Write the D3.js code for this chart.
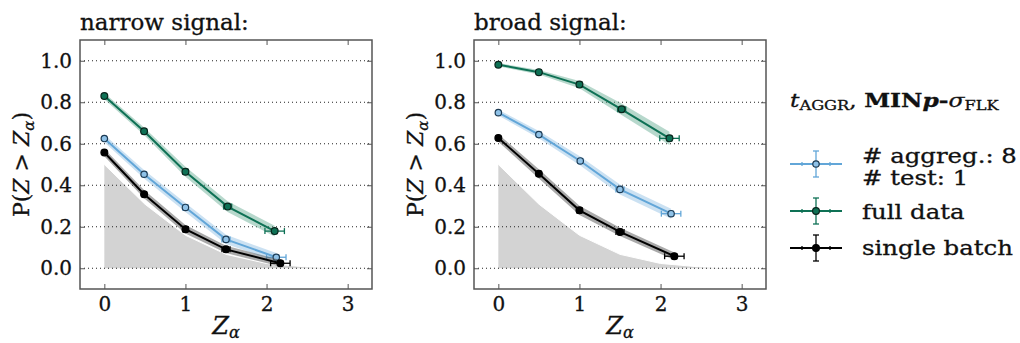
<!DOCTYPE html>
<html>
<head>
<meta charset="utf-8">
<script src="https://cdn.jsdelivr.net/npm/d3@7"></script>
<style>
  body { margin: 0; background: #fff; }
  svg text { font-family: "DejaVu Serif", serif; fill: #111; stroke: #111; stroke-width: 0.3px; }
</style>
</head>
<body>
<svg id="chart" width="1020" height="343"></svg>
<script>
// values
const xTicks = [0, 1, 2, 3];
const yTicks = [0, 0.2, 0.4, 0.6, 0.8, 1.0];

// reference curve (grey area): tail probability at Z_alpha
const refX = [0, 0.5, 1.0, 1.5, 2.0, 2.5, 3.0, 3.5];
const refY = [0.5, 0.309, 0.159, 0.067, 0.023, 0.006, 0.001, 0.0002];

const xErr = [0.02, 0.03, 0.03, 0.05, 0.12];
const yErr = [0.008, 0.01, 0.012, 0.012, 0.012];

const narrowAggX = [0, 0.49, 1.0, 1.5, 2.12];
const narrowAggY = [0.625, 0.453, 0.293, 0.139, 0.053];
const narrowAggBand = [0.018, 0.02, 0.022, 0.022, 0.02];
const narrowFullX = [0, 0.49, 1.0, 1.52, 2.1];
const narrowFullY = [0.83, 0.66, 0.465, 0.297, 0.179];
const narrowFullBand = [0.015, 0.018, 0.024, 0.026, 0.026];
const narrowSingleX = [0, 0.49, 1.0, 1.5, 2.17];
const narrowSingleY = [0.558, 0.357, 0.188, 0.091, 0.024];
const narrowSingleBand = [0.018, 0.02, 0.02, 0.018, 0.016];

const broadAggX = [0, 0.5, 1.01, 1.5, 2.13];
const broadAggY = [0.75, 0.644, 0.517, 0.38, 0.263];
const broadAggBand = [0.014, 0.018, 0.022, 0.024, 0.024];
const broadFullX = [0, 0.5, 1.0, 1.52, 2.11];
const broadFullY = [0.981, 0.945, 0.885, 0.766, 0.626];
const broadFullBand = [0.008, 0.011, 0.017, 0.028, 0.032];
const broadSingleX = [0, 0.5, 1.0, 1.5, 2.17];
const broadSingleY = [0.628, 0.455, 0.279, 0.175, 0.058];
const broadSingleBand = [0.018, 0.022, 0.022, 0.02, 0.018];

const styles = {
  agg:    { line: "#62a6d8", band: "#a8cdea", bandOp: 0.6, fill: "#8fc2e8", edge: "#1d3a52", r: 3.2 },
  full:   { line: "#0e7155", band: "#5fa88f", bandOp: 0.45, fill: "#0e7155", edge: "#0a241c", r: 3.4 },
  single: { line: "#000000", band: "#555555", bandOp: 0.5, fill: "#000000", edge: "#000000", r: 3.4 }
};

const panels = [
  { title: "narrow signal:", left: 80, series: [
      { key: "agg", xs: narrowAggX, ys: narrowAggY, band: narrowAggBand },
      { key: "full", xs: narrowFullX, ys: narrowFullY, band: narrowFullBand },
      { key: "single", xs: narrowSingleX, ys: narrowSingleY, band: narrowSingleBand }] },
  { title: "broad signal:", left: 474, series: [
      { key: "agg", xs: broadAggX, ys: broadAggY, band: broadAggBand },
      { key: "full", xs: broadFullX, ys: broadFullY, band: broadFullBand },
      { key: "single", xs: broadSingleX, ys: broadSingleY, band: broadSingleBand }] }
];

const W = 292, plotTop = 40, plotBottom = 289;
const svg = d3.select("#chart");

panels.forEach((p, pi) => {
  const x = d3.scaleLinear().domain([-0.3, 3.3]).range([p.left, p.left + W]);
  const y = d3.scaleLinear().domain([-0.1, 1.1]).range([plotBottom, plotTop]);
  const g = svg.append("g");

  const clipId = "clip" + pi;
  g.append("clipPath").attr("id", clipId)
    .append("rect").attr("x", p.left).attr("y", plotTop).attr("width", W).attr("height", plotBottom - plotTop);

  const plot = g.append("g").attr("clip-path", `url(#${clipId})`);

  // grey reference area
  const ref = refX.map((v, i) => [v, refY[i]]);
  plot.append("path").datum(ref)
    .attr("fill", "#d3d3d3")
    .attr("d", d3.area().x(d => x(d[0])).y0(y(0)).y1(d => y(d[1])));
  plot.append("path").datum(ref)
    .attr("fill", "none").attr("stroke", "#fff").attr("stroke-width", 1)
    .attr("d", d3.line().x(d => x(d[0])).y(d => y(d[1])));

  // dotted grid
  plot.selectAll(".grid").data(yTicks).join("line")
    .attr("x1", p.left).attr("x2", p.left + W)
    .attr("y1", d => y(d)).attr("y2", d => y(d))
    .attr("stroke", "#222").attr("stroke-width", 1).attr("stroke-dasharray", "1,3");

  p.series.forEach(s => {
    const st = styles[s.key];
    const pts = s.xs.map((v, i) => ({ x: v, y: s.ys[i], b: s.band[i], xe: xErr[i], ye: yErr[i] }));
    plot.append("path").datum(pts)
      .attr("fill", st.band).attr("fill-opacity", st.bandOp)
      .attr("d", d3.area().x(d => x(d.x)).y0(d => y(d.y - d.b)).y1(d => y(d.y + d.b)));
    plot.append("path").datum(pts)
      .attr("fill", "none").attr("stroke", st.line).attr("stroke-width", 2)
      .attr("d", d3.line().x(d => x(d.x)).y(d => y(d.y)));
    const eb = plot.append("g").attr("stroke", st.line).attr("stroke-width", 1.3);
    pts.forEach(d => {
      const cx = x(d.x), cy = y(d.y);
      const x0 = x(d.x - d.xe), x1 = x(d.x + d.xe);
      const y0 = y(d.y - d.ye), y1 = y(d.y + d.ye);
      eb.append("line").attr("x1", x0).attr("x2", x1).attr("y1", cy).attr("y2", cy);
      eb.append("line").attr("x1", x0).attr("x2", x0).attr("y1", cy - 3).attr("y2", cy + 3);
      eb.append("line").attr("x1", x1).attr("x2", x1).attr("y1", cy - 3).attr("y2", cy + 3);
      eb.append("line").attr("x1", cx).attr("x2", cx).attr("y1", y0).attr("y2", y1);
      eb.append("line").attr("x1", cx - 3).attr("x2", cx + 3).attr("y1", y0).attr("y2", y0);
      eb.append("line").attr("x1", cx - 3).attr("x2", cx + 3).attr("y1", y1).attr("y2", y1);
    });
    plot.append("g").selectAll("circle").data(pts).join("circle")
      .attr("cx", d => x(d.x)).attr("cy", d => y(d.y)).attr("r", st.r)
      .attr("fill", st.fill).attr("stroke", st.edge).attr("stroke-width", 1.2);
  });

  // axes, ticks pointing inward on all four sides
  const axisColor = "#555";
  const styleAxis = sel => {
    sel.select(".domain").remove();
    sel.selectAll(".tick line").attr("stroke", axisColor).attr("stroke-width", 1);
    sel.selectAll(".tick text").attr("font-size", 20);
  };
  g.append("g").attr("transform", `translate(0,${plotBottom})`)
    .call(d3.axisBottom(x).tickValues(xTicks).tickFormat(d3.format("d")).tickSize(-5).tickPadding(8))
    .call(styleAxis);
  g.append("g").attr("transform", `translate(0,${plotTop})`)
    .call(d3.axisTop(x).tickValues(xTicks).tickFormat("").tickSize(-5))
    .call(styleAxis);
  g.append("g").attr("transform", `translate(${p.left},0)`)
    .call(d3.axisLeft(y).tickValues(yTicks).tickFormat(d3.format(".1f")).tickSize(-5).tickPadding(8))
    .call(styleAxis);
  g.append("g").attr("transform", `translate(${p.left + W},0)`)
    .call(d3.axisRight(y).tickValues(yTicks).tickFormat("").tickSize(-5))
    .call(styleAxis);

  g.append("rect").attr("x", p.left).attr("y", plotTop).attr("width", W).attr("height", plotBottom - plotTop)
    .attr("fill", "none").attr("stroke", axisColor).attr("stroke-width", 1.5);

  // title
  g.append("text").attr("x", p.left).attr("y", 30).attr("font-size", 23)
    .text(p.title);

  // x label
  const xl = g.append("text").attr("x", p.left + W / 2).attr("y", 334)
    .attr("text-anchor", "middle").attr("font-size", 24);
  xl.append("tspan").attr("font-style", "italic").text("Z");
  xl.append("tspan").attr("font-style", "italic").attr("font-size", 16).attr("dy", 4).text("α");

  // y label
  const yl = g.append("text")
    .attr("transform", `translate(${p.left - 51},${(plotTop + plotBottom) / 2}) rotate(-90)`)
    .attr("text-anchor", "middle").attr("font-size", 22);
  yl.append("tspan").text("P(");
  yl.append("tspan").attr("font-style", "italic").text("Z");
  yl.append("tspan").text(" > ");
  yl.append("tspan").attr("font-style", "italic").text("Z");
  yl.append("tspan").attr("font-style", "italic").attr("font-size", 15).attr("dy", 5).text("α");
  yl.append("tspan").attr("dy", -5).text(")");
});

// legend
const lg = svg.append("g");
const lt = lg.append("text").attr("transform", "translate(790,107) scale(1.3,1)").attr("font-size", 18);
lt.append("tspan").attr("font-style", "italic").text("t");
lt.append("tspan").attr("font-size", 12.5).attr("dy", 3).text("AGGR");
lt.append("tspan").attr("dy", -3).text(", ");
lt.append("tspan").attr("font-weight", "bold").text("MIN");
lt.append("tspan").attr("font-weight", "bold").attr("font-style", "italic").text("p");
lt.append("tspan").attr("font-weight", "bold").text("-");
lt.append("tspan").attr("font-style", "italic").text("σ");
lt.append("tspan").attr("font-size", 12.5).attr("dy", 3).text("FLK");

const legendItems = [
  { key: "agg", y: 164, lines: ["# aggreg.: 8", "# test: 1"], base: [162.5, 185] },
  { key: "full", y: 211, lines: ["full data"], base: [218.5] },
  { key: "single", y: 248, lines: ["single batch"], base: [254.5] }
];
legendItems.forEach(it => {
  const st = styles[it.key];
  const e = lg.append("g").attr("stroke", st.line).attr("stroke-width", 1.3);
  e.append("line").attr("x1", 790).attr("x2", 842).attr("y1", it.y).attr("y2", it.y).attr("stroke-width", 2);
  e.append("line").attr("x1", 816).attr("x2", 816).attr("y1", it.y - 13).attr("y2", it.y + 13);
  e.append("line").attr("x1", 813).attr("x2", 819).attr("y1", it.y - 13).attr("y2", it.y - 13);
  e.append("line").attr("x1", 813).attr("x2", 819).attr("y1", it.y + 13).attr("y2", it.y + 13);
  e.append("line").attr("x1", 802).attr("x2", 802).attr("y1", it.y - 2).attr("y2", it.y + 2);
  e.append("line").attr("x1", 830).attr("x2", 830).attr("y1", it.y - 2).attr("y2", it.y + 2);
  lg.append("circle").attr("cx", 816).attr("cy", it.y).attr("r", st.r)
    .attr("fill", st.fill).attr("stroke", st.edge).attr("stroke-width", 1.2);
  it.lines.forEach((t, i) => {
    lg.append("text").attr("transform", `translate(862,${it.base[i]}) scale(1.22,1)`)
      .attr("font-size", 20).text(t);
  });
});

// make sure every label uses the serif face, even inside d3 axis groups
svg.selectAll("text").style("font-family", '"DejaVu Serif", serif');
</script>
</body>
</html>
